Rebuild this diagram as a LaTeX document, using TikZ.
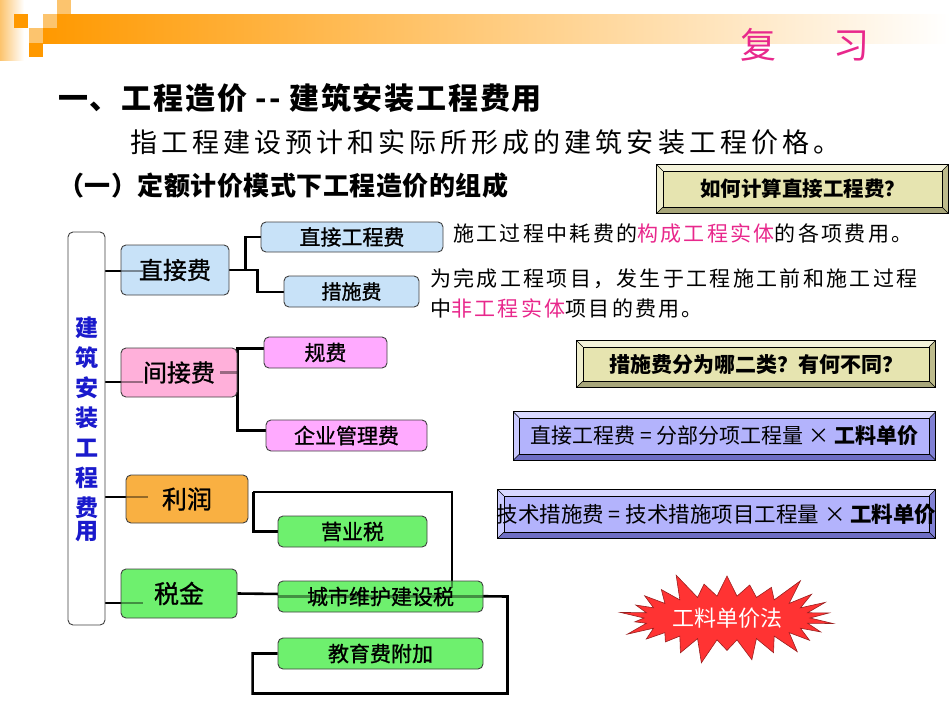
\documentclass[tikz,border=0pt]{standalone}
\usepackage{fontspec}
\setmainfont{Noto Sans CJK SC}
\usetikzlibrary{calc,shapes.symbols}
\definecolor{bluebox}{HTML}{C8E2F8}
\definecolor{pinkA}{HTML}{FFB0DA}
\definecolor{pinkB}{HTML}{FFAAFF}
\definecolor{orangebox}{HTML}{F9B042}
\definecolor{greenbox}{HTML}{6EF06E}
\definecolor{khaki}{HTML}{E6E4B0}
\definecolor{khakiL}{HTML}{F4F3DA}
\definecolor{khakiM}{HTML}{EEEDCC}
\definecolor{khakiD}{HTML}{A8A67A}
\definecolor{khakiE}{HTML}{BDBB8C}
\definecolor{lav}{HTML}{B3B3FC}
\definecolor{lavL}{HTML}{D8D8FF}
\definecolor{lavM}{HTML}{CACAFF}
\definecolor{lavD}{HTML}{6E6EC4}
\definecolor{lavE}{HTML}{8080D4}
\definecolor{hot}{HTML}{E8288C}
\definecolor{vblue}{HTML}{1A1ACC}
\definecolor{starred}{HTML}{FF3333}
\definecolor{orA}{HTML}{FF9900}
\definecolor{orB}{HTML}{FCC46E}
\newcommand\fsz[1]{\fontsize{#1}{#1}\selectfont}
\newcommand\bevel[5]{%
  \fill[#2] (#1.north west) -- (#1.north east) -- ($(#1.north east)+(-6,6)$) -- ($(#1.north west)+(6,6)$) -- cycle;
  \fill[#3] (#1.north west) -- ($(#1.north west)+(6,6)$) -- ($(#1.south west)+(6,-6)$) -- (#1.south west) -- cycle;
  \fill[#4] (#1.south west) -- ($(#1.south west)+(6,-6)$) -- ($(#1.south east)+(-6,-6)$) -- (#1.south east) -- cycle;
  \fill[#5] (#1.south east) -- ($(#1.south east)+(-6,-6)$) -- ($(#1.north east)+(-6,6)$) -- (#1.north east) -- cycle;
  \draw[line width=0.8pt] (#1.north west) rectangle (#1.south east);
  \draw[line width=0.6pt] ($(#1.north west)+(6,6)$) rectangle ($(#1.south east)+(-6,-6)$);
  \draw[line width=0.5pt] (#1.north west) -- ++(6,6) (#1.north east) -- ++(-6,6)
    (#1.south west) -- ++(6,-6) (#1.south east) -- ++(-6,-6);
}
\pgfdeclarelayer{bg}
\pgfsetlayers{bg,main}
\tikzset{
  cbox/.style={draw=black!75, line width=0.9pt, rounded corners=5pt, inner sep=0pt},
  bt/.style={font=\fsz{#1}\addfontfeature{FakeBold=1}},
  conn/.style={line width=2.6pt, black},
  thru/.style={line width=2.6pt, black, draw opacity=0.4},
  frame/.style={inner sep=0pt, fill=#1},
  plain/.style={inner sep=0pt, anchor=west},
}
\begin{document}
\begin{tikzpicture}[x=1pt,y=-1pt]
\useasboundingbox (0,0) rectangle (950,713);
% header decoration
\shade[left color=orB, right color=white] (0,0) rectangle (24,60);
\shade[left color=orA, right color=white] (43,14) rectangle (950,43);
\fill[orA] (14,14) rectangle (28,28);
\fill[orB] (43,14) rectangle (57,28);
\fill[orB] (57,0) rectangle (71,14);
\fill[orB] (29,28) rectangle (43,43);
\fill[orA] (29,43) rectangle (43,57);
\node[plain, text=hot, font=\fsz{36}] (rev) at (740,45) {复\hspace{57pt}习};

% titles
\node[plain, font=\fsz{30}\bfseries\addfontfeature{LetterSpace=6}] (t1) at (58,98) {一、工程造价 -{}- 建筑安装工程费用};
\node[plain, font=\fsz{27}\addfontfeature{LetterSpace=15}] (t2) at (130,142) {指工程建设预计和实际所形成的建筑安装工程价格。};
\node[plain, font=\fsz{26}\bfseries\addfontfeature{LetterSpace=2}] (t3) at (58,186) {（一）定额计价模式下工程造价的组成};

% left vertical box
\node[cbox, fill=white, minimum width=37pt, minimum height=393pt] (vb) at (86.5,428.5) {};
\node[inner sep=0pt, align=center, text=vblue, font=\fsz{23}\bfseries, text width=30pt] (vbt) at (86.5,429)
  {\fontsize{23}{30}\selectfont 建\\筑\\安\\装\\工\\程\\费\\用};

% tree boxes
\node[cbox, fill=bluebox, minimum width=108pt, minimum height=50pt, bt=24] (zj) at (175,270) {直接费};
\node[cbox, fill=bluebox, minimum width=182pt, minimum height=30pt, bt=21] (zjgc) at (352,237) {直接工程费};
\node[cbox, fill=bluebox, minimum width=135pt, minimum height=31pt, bt=20] (csf) at (351.5,291.5) {措施费};
\node[cbox, fill=pinkA, minimum width=116pt, minimum height=49pt, bt=24] (jj) at (179,372.5) {间接费};
\node[cbox, fill=pinkB, minimum width=123pt, minimum height=31pt, bt=21] (gf) at (325.5,352.5) {规费};
\node[cbox, fill=pinkB, minimum width=161pt, minimum height=31pt, bt=21] (qy) at (346.5,435.5) {企业管理费};
\node[cbox, fill=orangebox, minimum width=122pt, minimum height=48pt, bt=25] (ly) at (187,499) {利润};
\node[cbox, fill=greenbox, minimum width=149pt, minimum height=31pt, bt=21] (yys) at (352.5,531.5) {营业税};
\node[cbox, fill=greenbox, minimum width=116pt, minimum height=49pt, bt=25] (sj) at (179,593.5) {税金};
\node[cbox, fill=greenbox, minimum width=205pt, minimum height=31pt] (cs) at (380.5,596.5) {};
\node[cbox, fill=greenbox, minimum width=205pt, minimum height=31pt, bt=21] (jy) at (380.5,653.5) {教育费附加};
\coordinate (lyend) at ($(cs.north)+(71.5,7)$);

% connectors
\begin{pgfonlayer}{bg}
\draw[conn] (vb.east |- 0,271) -- (zj.west |- 0,271);
\draw[conn] (vb.east |- 0,382) -- (jj.west |- 0,382);
\draw[conn] (vb.east |- 0,497) -- (ly.west |- 0,497);
\draw[conn] (vb.east |- 0,603) -- (sj.west |- 0,603);
\draw[conn] (zj.east) -- ++(16,0) |- (zjgc.west);
\draw[conn] (zj.east) -- ++(28,0) |- ($(csf.west)+(0,0.5)$);
\draw[conn] ($(gf.west)+(0,-4)$) -| (jj.east) |- ($(qy.west)+(0,-5)$);
\draw[conn] ($(ly.east)+(5,-7)$) -| (lyend);
\draw[conn] ($(ly.east)+(5,-7)$) |- (yys.west);
\draw[conn] (sj.east) -- ($(cs.east)+(24,0)$) |- ($(jy.south west)+(-25,24)$) |- (jy.west);
\end{pgfonlayer}
% lines seen through the boxes
\draw[thru] (zj.west |- 0,271) -- ++(22,0);
\draw[thru] (jj.west |- 0,382) -- ++(22,0);
\draw[thru] (ly.west |- 0,497) -- ++(22,0);
\draw[thru] (sj.west |- 0,603) -- ++(22,0);
\draw[thru] ($(jj.east)+(-17,0)$) -- (jj.east);
\draw[thru] (cs.west) -- (cs.east);
\draw[thru] (cs.north -| lyend) -- (lyend);
\node[bt=21] (cst) at (cs.center) {城市维护建设税};

% descriptions
\node[plain, font=\fsz{21}\addfontfeature{LetterSpace=11}] (d1) at (453,234) {施工过程中耗费的\textcolor{hot}{构成工程实体}的各项费用。};
\node[plain, font=\fsz{21}\addfontfeature{LetterSpace=11}] (d2) at (430,279) {为完成工程项目，发生于工程施工前和施工过程};
\node[plain, font=\fsz{21}\addfontfeature{LetterSpace=11}] (d3) at (430,308) {中\textcolor{hot}{非工程实体}项目的费用。};

% callouts
\node[frame=khaki, minimum width=291pt, minimum height=48pt] (q1) at (802.5,189) {};
\bevel{q1}{khakiL}{khakiM}{khakiD}{khakiE}
\node[font=\fsz{20.5}\bfseries] (q1t) at (q1.center) {如何计算直接工程费？};

\node[frame=khaki, minimum width=358pt, minimum height=46pt] (q2) at (756,364) {};
\bevel{q2}{khakiL}{khakiM}{khakiD}{khakiE}
\node[font=\fsz{21}\bfseries] (q2t) at (q2.center) {措施费分为哪二类？有何不同？};

\node[frame=lav, minimum width=422pt, minimum height=48pt] (q3) at (724.5,436) {};
\bevel{q3}{lavL}{lavM}{lavD}{lavE}
\node[font=\fsz{21}] (q3t) at (q3.center) {直接工程费 = 分部分项工程量 × \textbf{工料单价}};

\node[frame=lav, minimum width=437pt, minimum height=48pt] (q4) at (716.5,514) {};
\bevel{q4}{lavL}{lavM}{lavD}{lavE}
\node[font=\fsz{21.5}] (q4t) at (q4.center) {技术措施费 = 技术措施项目工程量 × \textbf{工料单价}};

% starburst
\node[starburst, starburst points=26, starburst point height=28pt, fill=starred, draw=starred!60!black,
  line width=0.6pt, minimum width=222pt, minimum height=100pt, text=white, font=\fsz{22}] (star) at (727,618) {工料单价法};
\end{tikzpicture}
\end{document}
